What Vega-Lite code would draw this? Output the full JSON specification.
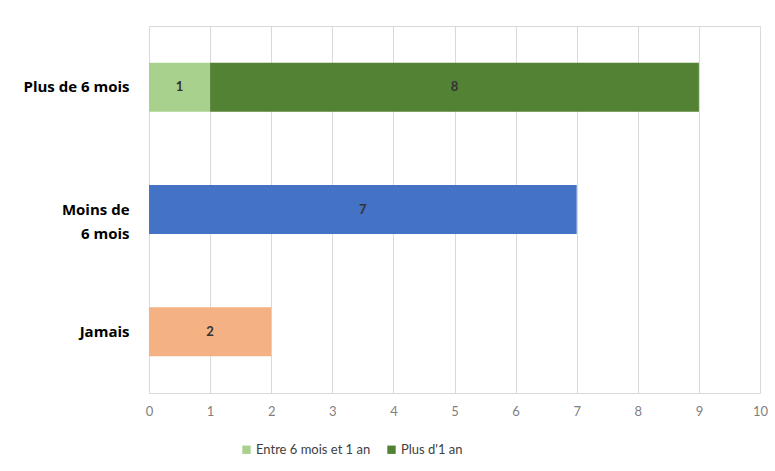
{
  "$schema": "https://vega.github.io/schema/vega-lite/v6.json",
  "width": 611,
  "height": 367,
  "autosize": {"type": "none"},
  "padding": {"left": 149, "top": 26, "right": 15, "bottom": 78},
  "background": "#ffffff",
  "config": {
    "font": "Lato",
    "view": {"stroke": "#d9d9d9", "strokeWidth": 1}
  },
  "data": {
    "values": [
      {"cat": "Plus de 6 mois", "serie": "Entre 6 mois et 1 an", "value": 1, "ord": 1},
      {"cat": "Plus de 6 mois", "serie": "Plus d'1 an", "value": 8, "ord": 2},
      {"cat": "Moins de 6 mois", "serie": "Moins de 6 mois", "value": 7, "ord": 1},
      {"cat": "Jamais", "serie": "Jamais", "value": 2, "ord": 1}
    ]
  },
  "transform": [
    {"stack": "value", "groupby": ["cat"], "sort": [{"field": "ord", "order": "ascending"}], "as": ["x0", "x1"]},
    {"calculate": "(datum.x0 + datum.x1) / 2", "as": "mid"}
  ],
  "encoding": {
    "y": {
      "field": "cat",
      "type": "nominal",
      "sort": ["Plus de 6 mois", "Moins de 6 mois", "Jamais"],
      "scale": {"paddingInner": 0.6, "paddingOuter": 0.3},
      "axis": {
        "title": null,
        "domain": false,
        "ticks": false,
        "labelPadding": 20,
        "labelFont": "Open Sans",
        "labelFontWeight": "bold",
        "labelFontSize": 15,
        "labelColor": "#000000",
        "labelLineHeight": 24,
        "labelExpr": "datum.value == 'Moins de 6 mois' ? ['Moins de', '6 mois'] : datum.value"
      }
    }
  },
  "layer": [
    {
      "mark": {"type": "bar"},
      "encoding": {
        "x": {
          "field": "x0",
          "type": "quantitative",
          "scale": {"domain": [0, 10], "nice": false},
          "axis": {
            "title": null,
            "values": [0, 1, 2, 3, 4, 5, 6, 7, 8, 9, 10],
            "format": "d",
            "labelOverlap": false,
            "domain": false,
            "ticks": false,
            "grid": true,
            "gridColor": "#d9d9d9",
            "gridWidth": 1,
            "labelColor": "#7f7f7f",
            "labelFontSize": 13,
            "labelPadding": 12,
            "labelFlush": false
          }
        },
        "x2": {"field": "x1"},
        "color": {
          "field": "serie",
          "type": "nominal",
          "scale": {
            "domain": ["Entre 6 mois et 1 an", "Plus d'1 an", "Moins de 6 mois", "Jamais"],
            "range": ["#a9d18e", "#548235", "#4472c4", "#f4b183"]
          },
          "legend": {
            "values": ["Entre 6 mois et 1 an", "Plus d'1 an"],
            "title": null,
            "orient": "none",
            "direction": "horizontal",
            "legendX": 91,
            "legendY": 417,
            "symbolType": "square",
            "symbolSize": 70,
            "symbolStrokeWidth": 0,
            "labelFontSize": 13,
            "labelColor": "#404040",
            "columnPadding": 14,
            "labelOffset": 3
          }
        }
      }
    },
    {
      "mark": {"type": "text", "fontWeight": "bold", "fontSize": 13, "color": "#333333", "baseline": "middle", "align": "center"},
      "encoding": {
        "x": {"field": "mid", "type": "quantitative"},
        "text": {"field": "value", "type": "quantitative"}
      }
    }
  ]
}
